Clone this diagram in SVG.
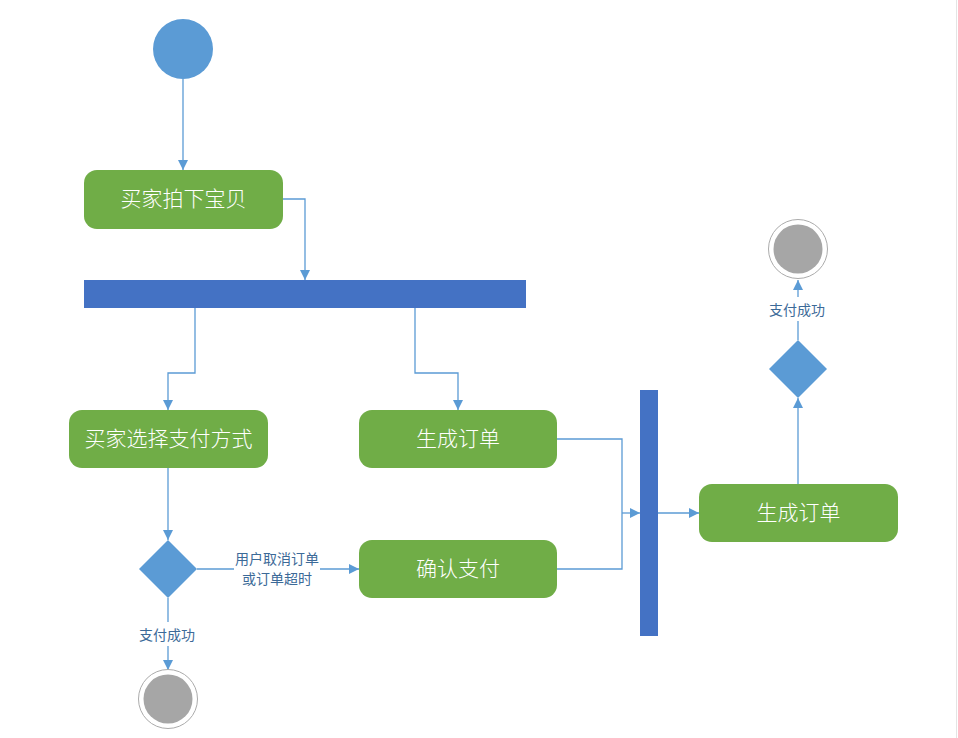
<svg xmlns="http://www.w3.org/2000/svg" width="958" height="738" viewBox="0 0 958 738">
<style>
.act{fill:#70AD47}
.at{fill:#fff;font-family:"Noto Sans CJK SC","Liberation Sans",sans-serif;font-size:21px;font-weight:300;text-anchor:middle;dominant-baseline:central}
.lbl{fill:#3C6A98;font-family:"Noto Sans CJK SC","Liberation Sans",sans-serif;font-size:14px;font-weight:400;text-anchor:middle;dominant-baseline:central}
.bar{fill:#4472C4}
.dec{fill:#5B9BD5}
.con{fill:none;stroke:#5B9BD5;stroke-width:1.3}
</style>
<defs>
<marker id="arr" viewBox="0 0 10 10" refX="10" refY="5" markerWidth="10" markerHeight="10" markerUnits="userSpaceOnUse" orient="auto">
<path d="M0,0 L10,5 L0,10 Z" fill="#5B9BD5"/>
</marker>
</defs>
<rect x="0" y="0" width="958" height="738" fill="#fff"/>
<line x1="956.5" y1="0" x2="956.5" y2="738" stroke="#e4e4e4" stroke-width="1"/>
<g id="connectors">
<path class="con" d="M183,79 V170" marker-end="url(#arr)"/>
<path class="con" d="M283,199 H305 V280" marker-end="url(#arr)"/>
<path class="con" d="M195,308 V373 H168 V410" marker-end="url(#arr)"/>
<path class="con" d="M415,308 V373 H458 V410" marker-end="url(#arr)"/>
<path class="con" d="M168,468 V540" marker-end="url(#arr)"/>
<path class="con" d="M197,569 H234"/>
<path class="con" d="M320,569 H359" marker-end="url(#arr)"/>
<path class="con" d="M168,598 V622"/>
<path class="con" d="M168,646 V670" marker-end="url(#arr)"/>
<path class="con" d="M557,439 H622 V569 H557"/>
<path class="con" d="M622,513 H640" marker-end="url(#arr)"/>
<path class="con" d="M658,513 H699" marker-end="url(#arr)"/>
<path class="con" d="M798,484 V398" marker-end="url(#arr)"/>
<path class="con" d="M798,340 V321"/>
<path class="con" d="M798,297 V280" marker-end="url(#arr)"/>
<text class="lbl" x="277" y="558">用户取消订单</text>
<text class="lbl" x="277" y="578">或订单超时</text>
<text class="lbl" x="167" y="634">支付成功</text>
<text class="lbl" x="797" y="309">支付成功</text>
</g>
<g id="start"><circle cx="183" cy="49" r="30" fill="#5B9BD5"/></g>
<g id="n1"><rect class="act" x="84" y="170" width="199" height="59" rx="13"/><text class="at" x="183.5" y="197">买家拍下宝贝</text></g>
<g id="fork1"><rect class="bar" x="84" y="280" width="442" height="28"/></g>
<g id="n2"><rect class="act" x="69" y="410" width="199" height="58" rx="13"/><text class="at" x="168.5" y="437">买家选择支付方式</text></g>
<g id="n3"><rect class="act" x="359" y="410" width="198" height="58" rx="13"/><text class="at" x="458" y="437">生成订单</text></g>
<g id="d1"><polygon class="dec" points="168,540 197,569 168,598 139,569"/></g>
<g id="n4"><rect class="act" x="359" y="540" width="198" height="58" rx="13"/><text class="at" x="458" y="567">确认支付</text></g>
<g id="end1"><circle cx="168" cy="699" r="29.5" fill="#fff" stroke="#ababab" stroke-width="1"/><circle cx="168" cy="699" r="24.5" fill="#a6a6a6"/></g>
<g id="join1"><rect class="bar" x="640" y="390" width="18" height="246"/></g>
<g id="n5"><rect class="act" x="699" y="484" width="199" height="58" rx="13"/><text class="at" x="798.5" y="511">生成订单</text></g>
<g id="d2"><polygon class="dec" points="798,340 827,369 798,398 769,369"/></g>
<g id="end2"><circle cx="798" cy="249" r="29.5" fill="#fff" stroke="#ababab" stroke-width="1"/><circle cx="798" cy="249" r="24.5" fill="#a6a6a6"/></g>
</svg>
